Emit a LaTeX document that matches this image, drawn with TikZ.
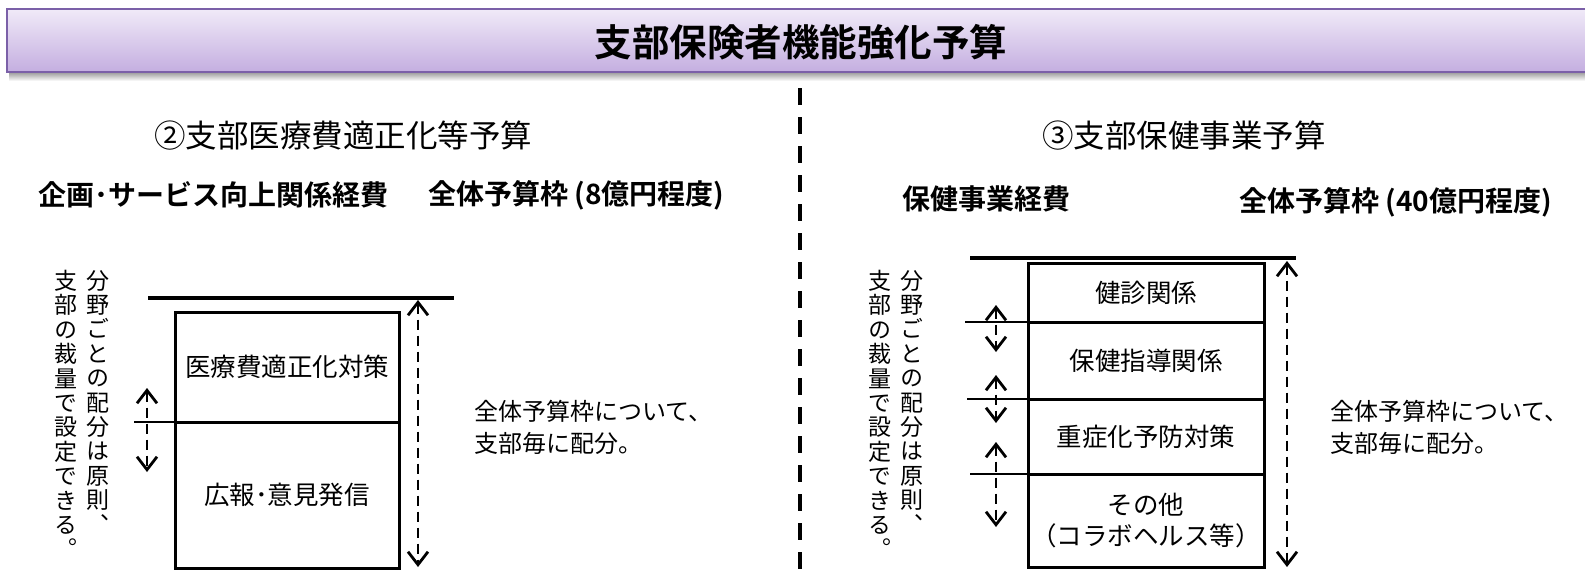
\documentclass[tikz,border=0pt]{standalone}
\usepackage{fontspec}
\setmainfont{Noto Sans CJK JP}
\newfontfamily\jpbold{Noto Sans CJK JP Bold}
\newfontfamily\jpv{Noto Sans CJK JP}[RawFeature=+vert]
\usetikzlibrary{arrows.meta}
\definecolor{hdrtop}{HTML}{F0EAF8}
\definecolor{hdrbot}{HTML}{C4AEE0}
\definecolor{hdrborder}{HTML}{7B60A8}
\begin{document}
\begin{tikzpicture}[x=1pt,y=-1pt,
  titletext/.style={font=\jpbold\fontsize{37.5}{40}\selectfont, inner sep=0},
  secttext/.style={font=\fontsize{31.5}{34}\selectfont, inner sep=0},
  subtext/.style={font=\jpbold\fontsize{28}{30}\selectfont, inner sep=0, anchor=west},
  celltext/.style={font=\fontsize{25.5}{31}\selectfont, align=center, inner sep=0},
  notetext/.style={font=\fontsize{24}{32}\selectfont, align=left, inner sep=0, anchor=north west},
  vtext/.style={font=\jpv\fontsize{23}{24.4}\selectfont, align=center, inner sep=0, anchor=north},
  thickline/.style={line width=4.5pt},
  boxline/.style={line width=3pt},
  divline/.style={line width=2.2pt},
  tipbarb/.tip={Straight Barb[length=13pt,width=20pt]},
  dasharrow/.style={line width=2.8pt, dash pattern=on 10pt off 6pt, tipbarb-tipbarb},
  sepline/.style={line width=4pt, dash pattern=on 17pt off 12pt}
]
\useasboundingbox (0,0) rectangle (1585,570);

% header band
\shade[top color=black!40, bottom color=white] (9,72) rectangle (1600,81);
\shade[top color=hdrtop, bottom color=hdrbot, draw=hdrborder, line width=2pt] (7,9) rectangle (1600,72);
\node[titletext] (title) at (801,42) {支部保険者機能強化予算};

% vertical separator
\coordinate (sepTop) at (800,88);
\coordinate (sepBot) at (800,575);
\draw[sepline] (sepTop) -- (sepBot);

% ---------------- left section ----------------
\node[secttext] (lhead) at (343,136) {②支部医療費適正化等予算};
\node[subtext] (lsub) at (38,195) {企画･サービス向上関係経費};
\node[subtext] (lframe) at (428,195) {全体予算枠 (8億円程度)};

\node[vtext] (lv1) at (98,270) {分\\野\\ご\\と\\の\\配\\分\\は\\原\\則\\、};
\node[vtext] (lv2) at (66,270) {支\\部\\の\\裁\\量\\で\\設\\定\\で\\き\\る\\。};

\coordinate (lTopL) at (148,298);
\coordinate (lTopR) at (454,298);
\draw[thickline] (lTopL) -- (lTopR);

\node[draw, boxline, minimum width=224pt, minimum height=110pt, inner sep=0, outer sep=0, anchor=north west] (lcell1) at (175,312) {};
\node[draw, boxline, minimum width=224pt, minimum height=146pt, inner sep=0, outer sep=0, anchor=north west] (lcell2) at (175,422) {};
\node[celltext] at (lcell1.center) {医療費適正化対策};
\node[celltext] at (lcell2.center) {広報･意見発信};

\coordinate (lDivL) at (134,422);
\draw[divline] (lDivL) -- (lDivL -| lcell1.west);

\coordinate (la1) at (147,388);
\coordinate (la2) at (147,472);
\draw[dasharrow] (la1) -- (la2);
\coordinate (lb1) at (418,300);
\coordinate (lb2) at (418,567);
\draw[dasharrow] (lb1) -- (lb2);

\node[notetext] (lnote) at (474,400) {全体予算枠について、\\支部毎に配分。};

% ---------------- right section ----------------
\node[secttext] (rhead) at (1184,136) {③支部保健事業予算};
\node[subtext] (rsub) at (902,199) {保健事業経費};
\node[subtext] (rframe) at (1239,202) {全体予算枠 (40億円程度)};

\node[vtext] (rv1) at (912,270) {分\\野\\ご\\と\\の\\配\\分\\は\\原\\則\\、};
\node[vtext] (rv2) at (880,270) {支\\部\\の\\裁\\量\\で\\設\\定\\で\\き\\る\\。};

\coordinate (rTopL) at (970,258);
\coordinate (rTopR) at (1296,258);
\draw[thickline] (rTopL) -- (rTopR);

\node[draw, boxline, minimum width=236pt, minimum height=59pt, inner sep=0, outer sep=0, anchor=north west] (rcell1) at (1028,263) {};
\node[draw, boxline, minimum width=236pt, minimum height=77pt, inner sep=0, outer sep=0, anchor=north west] (rcell2) at (1028,322) {};
\node[draw, boxline, minimum width=236pt, minimum height=75pt, inner sep=0, outer sep=0, anchor=north west] (rcell3) at (1028,399) {};
\node[draw, boxline, minimum width=236pt, minimum height=93pt, inner sep=0, outer sep=0, anchor=north west] (rcell4) at (1028,474) {};
\node[celltext] at (rcell1.center) {健診関係};
\node[celltext] at (rcell2.center) {保健指導関係};
\node[celltext] at (rcell3.center) {重症化予防対策};
\node[celltext] at (rcell4.center) {その他\\（コラボヘルス等）};

\coordinate (rDiv1) at (965,322);
\coordinate (rDiv2) at (967,399);
\coordinate (rDiv3) at (970,474);
\draw[divline] (rDiv1) -- (rDiv1 -| rcell1.west);
\draw[divline] (rDiv2) -- (rDiv2 -| rcell2.west);
\draw[divline] (rDiv3) -- (rDiv3 -| rcell3.west);

\coordinate (ra1) at (996,305);
\coordinate (ra2) at (996,352);
\draw[dasharrow] (ra1) -- (ra2);
\coordinate (ra3) at (996,375);
\coordinate (ra4) at (996,423);
\draw[dasharrow] (ra3) -- (ra4);
\coordinate (ra5) at (996,442);
\coordinate (ra6) at (996,527);
\draw[dasharrow] (ra5) -- (ra6);
\coordinate (rb1) at (1287,261);
\coordinate (rb2) at (1287,567);
\draw[dasharrow] (rb1) -- (rb2);

\node[notetext] (rnote) at (1330,400) {全体予算枠について、\\支部毎に配分。};
\end{tikzpicture}
\end{document}
